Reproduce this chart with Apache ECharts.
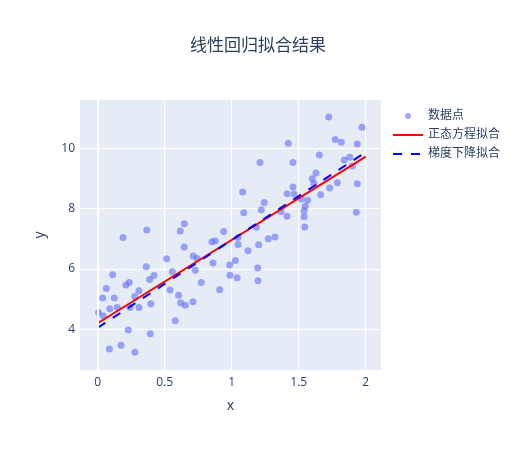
<!DOCTYPE html>
<html>
<head>
<meta charset="utf-8">
<script src="https://cdn.jsdelivr.net/npm/echarts@6/dist/echarts.min.js"></script>
<style>
  html, body { margin: 0; padding: 0; background: #fff; }
  #chart { width: 516px; height: 450px; }
</style>
</head>
<body>
<div id="chart"></div>
<script>
// scattered sample points
var pointX = [0.366, 0.189, 0.616, 0.646, 0.515, 0.363, 0.112, 0.557, 0.420, 0.388,
              0.236, 0.211, 0.064, 0.308, 0.540, 0.276, 0.037, 0.124, 0.604, 0.619,
              0.654, 0.396, 0.090, 0.146, 0.241, 0.308, 0.007, 0.042, 0.579, 0.228,
              0.393, 0.087, 0.174, 0.278, 1.082, 1.243, 1.221, 1.090, 0.646, 0.940,
              1.184, 1.047, 0.853, 0.878, 1.273, 1.323, 1.047, 1.201, 1.122, 0.713,
              0.741, 0.860, 1.027, 0.985, 0.728, 1.194, 0.987, 1.040, 1.196, 0.773,
              0.910, 0.711, 1.724, 1.972, 1.773, 1.818, 1.937, 1.422, 1.654, 1.457,
              1.840, 1.881, 1.900, 1.629, 1.601, 1.614, 1.788, 1.731, 1.937, 1.457,
              1.413, 1.465, 1.664, 1.519, 1.567, 1.549, 1.368, 1.540, 1.413, 1.930,
              1.540, 1.545, 1.211];
var pointY = [7.29, 7.04, 7.26, 6.73, 6.34, 6.07, 5.81, 5.91, 5.78, 5.65,
              5.55, 5.47, 5.35, 5.28, 5.30, 5.09, 5.04, 5.04, 5.13, 4.88,
              4.80, 4.85, 4.68, 4.72, 4.72, 4.72, 4.56, 4.44, 4.28, 3.98,
              3.85, 3.35, 3.47, 3.24, 8.55, 8.20, 7.96, 7.86, 7.50, 7.24,
              7.38, 7.04, 6.90, 6.93, 7.00, 7.06, 6.81, 6.80, 6.60, 6.43,
              6.35, 6.20, 6.28, 6.13, 5.96, 6.03, 5.79, 5.71, 5.61, 5.55,
              5.31, 4.91, 11.04, 10.70, 10.29, 10.20, 10.14, 10.17, 9.78, 9.53,
              9.61, 9.70, 9.41, 9.18, 8.99, 8.83, 8.86, 8.68, 8.82, 8.72,
              8.49, 8.48, 8.46, 8.32, 8.28, 8.08, 7.90, 7.93, 7.75, 7.88,
              7.73, 7.39, 9.53];

// fitted lines: end points only
var fitX = [0, 2];
var normalEqY = [4.20, 9.72];
var gradDescY = [4.05, 9.87];

var seriesNames = ["数据点", "正态方程拟合", "梯度下降拟合"];

var textColor = "#2a3f5f";
var fontFam = "'Open Sans', 'Noto Sans CJK SC', sans-serif";

function zip(a, b) {
    var out = [];
    for (var i = 0; i < a.length; i++) {
        out.push([a[i], b[i]]);
    }
    return out;
}

// no dot in the middle of the line icons
var hiddenDot = { color: "rgba(0,0,0,0)", opacity: 0, borderWidth: 0 };

var chart = echarts.init(document.getElementById("chart"));
var option = {
    backgroundColor: "#fff",
    animation: false,
    textStyle: { fontFamily: fontFam },
    title: {
        text: "线性回归拟合结果",
        left: "center",
        top: 33,
        textStyle: { color: textColor, fontSize: 17, fontWeight: "normal", fontFamily: fontFam }
    },
    legend: {
        orient: "vertical",
        left: 387,
        top: 105,
        itemWidth: 30,
        itemHeight: 6,
        itemGap: 7,
        textStyle: { color: textColor, fontSize: 12, fontFamily: fontFam },
        data: [
            { name: seriesNames[0], icon: "circle" },
            { name: seriesNames[1], itemStyle: hiddenDot, lineStyle: { color: "red", width: 2 } },
            { name: seriesNames[2], itemStyle: hiddenDot, lineStyle: { color: "blue", width: 2, type: [9, 9] } }
        ]
    },
    grid: {
        left: 80,
        right: 135,
        top: 100,
        bottom: 80,
        show: true,
        backgroundColor: "#E5ECF6",
        borderWidth: 0
    },
    xAxis: {
        type: "value",
        min: -0.132,
        max: 2.114,
        name: "x",
        nameLocation: "middle",
        nameGap: 29,
        nameTextStyle: { color: textColor, fontSize: 14, fontFamily: fontFam },
        axisLine: { show: false },
        axisTick: { show: false },
        axisLabel: { color: textColor, fontSize: 12, margin: 7, showMinLabel: false, showMaxLabel: false },
        splitLine: { lineStyle: { color: "#fff", width: 1 }, showMinLine: false, showMaxLine: false }
    },
    yAxis: {
        type: "value",
        min: 2.65,
        max: 11.6,
        name: "y",
        nameLocation: "middle",
        nameRotate: 90,
        nameGap: 33,
        nameTextStyle: { color: textColor, fontSize: 14, fontFamily: fontFam },
        axisLine: { show: false },
        axisTick: { show: false },
        axisLabel: { color: textColor, fontSize: 12, margin: 5, showMinLabel: false, showMaxLabel: false },
        splitLine: { lineStyle: { color: "#fff", width: 1 }, showMinLine: false, showMaxLine: false }
    },
    series: [
        {
            name: seriesNames[0],
            type: "scatter",
            symbolSize: 7,
            itemStyle: { color: "#636efa", opacity: 0.6 },
            data: zip(pointX, pointY),
            // white zero line like the original
            markLine: {
                silent: true,
                symbol: "none",
                label: { show: false },
                lineStyle: { color: "#fff", width: 2, type: "solid" },
                data: [{ xAxis: 0 }]
            },
            z: 2
        },
        {
            name: seriesNames[1],
            type: "line",
            showSymbol: false,
            symbol: "none",
            lineStyle: { color: "red", width: 2 },
            itemStyle: { color: "red" },
            data: zip(fitX, normalEqY),
            z: 3
        },
        {
            name: seriesNames[2],
            type: "line",
            showSymbol: false,
            symbol: "none",
            lineStyle: { color: "blue", width: 2, type: [9, 9] },
            itemStyle: { color: "blue" },
            data: zip(fitX, gradDescY),
            z: 4
        }
    ]
};
chart.setOption(option);
</script>
</body>
</html>
